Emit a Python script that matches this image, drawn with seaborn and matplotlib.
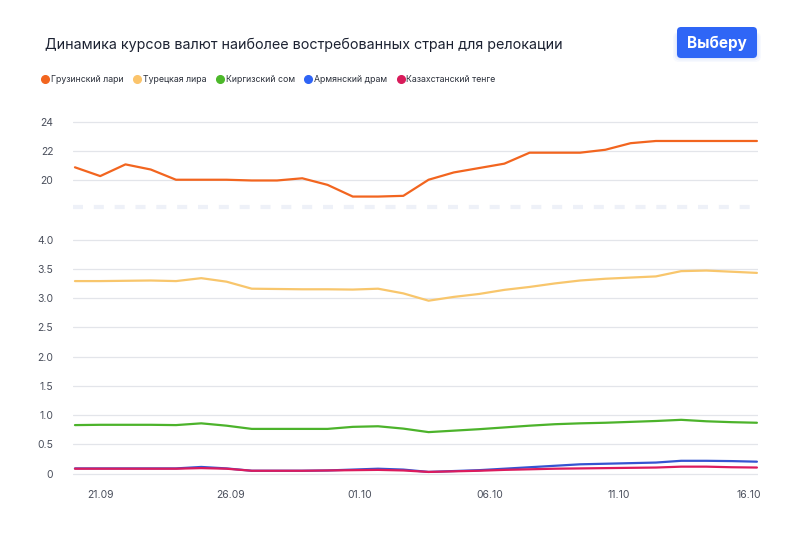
import matplotlib
matplotlib.use("Agg")
import matplotlib.pyplot as plt
import matplotlib.dates as mdates
from matplotlib.patches import FancyBboxPatch
from matplotlib.lines import Line2D
from matplotlib.transforms import IdentityTransform
import numpy as np
import pandas as pd
import seaborn as sns

## data
dates = pd.date_range("2022-09-20", "2022-10-16 08:00", periods=28)
lari = [20.9, 20.3, 21.1, 20.75, 20.05, 20.05, 20.05, 20.0, 20.0, 20.15, 19.7, 18.9, 18.9, 18.95,
        20.05, 20.55, 20.85, 21.15, 21.9, 21.9, 21.9, 22.1, 22.55, 22.7, 22.7, 22.7, 22.7, 22.7]
lira = [3.29, 3.29, 3.295, 3.30, 3.29, 3.34, 3.28, 3.16, 3.155, 3.15, 3.15, 3.145, 3.16, 3.08,
        2.955, 3.02, 3.07, 3.14, 3.19, 3.25, 3.30, 3.33, 3.35, 3.37, 3.46, 3.47, 3.45, 3.43]
som = [0.83, 0.835, 0.835, 0.835, 0.83, 0.86, 0.82, 0.765, 0.765, 0.765, 0.765, 0.80, 0.81, 0.77,
       0.71, 0.735, 0.76, 0.79, 0.82, 0.845, 0.86, 0.87, 0.885, 0.90, 0.92, 0.895, 0.88, 0.87]
dram = [0.09, 0.09, 0.09, 0.09, 0.09, 0.115, 0.09, 0.05, 0.05, 0.05, 0.055, 0.07, 0.085, 0.07,
        0.03, 0.045, 0.06, 0.085, 0.11, 0.135, 0.16, 0.17, 0.18, 0.19, 0.22, 0.22, 0.215, 0.205]
tenge = [0.085, 0.085, 0.085, 0.085, 0.085, 0.095, 0.085, 0.05, 0.05, 0.05, 0.055, 0.06, 0.065, 0.055,
         0.03, 0.04, 0.05, 0.065, 0.075, 0.085, 0.09, 0.095, 0.10, 0.105, 0.12, 0.12, 0.11, 0.105]

names = ["Грузинский лари", "Турецкая лира", "Киргизский сом", "Армянский драм", "Казахстанский тенге"]
colors = ["#f2651f", "#f8c66c", "#4cb32b", "#3554d1", "#dc1b5d"]
legend_colors = ["#f2651f", "#fbc46b", "#4cb82a", "#2f64f5", "#d81b5a"]
x_ticks = ["2022-09-21", "2022-09-26", "2022-10-01", "2022-10-06", "2022-10-11", "2022-10-16"]
top_ticks = [20, 22, 24]
bot_ticks = [0, 0.5, 1.0, 1.5, 2.0, 2.5, 3.0, 3.5, 4.0]
bot_labels = ["0", "0.5", "1.0", "1.5", "2.0", "2.5", "3.0", "3.5", "4.0"]

title = "Динамика курсов валют наиболее востребованных стран для релокации"
button = "Выберу"

df = pd.DataFrame({
    "date": np.tile(dates, len(names)),
    "rate": np.concatenate([lari, lira, som, dram, tenge]),
    "currency": np.repeat(names, len(dates)),
})
palette = dict(zip(names, colors))

## global settings
sns.set_theme(style="white")
plt.rcParams["font.family"] = ["Inter", "DejaVu Sans"]

fig = plt.figure(figsize=(8, 5.33), dpi=100)
ax_top = fig.add_axes([0.091, 0.612, 0.8565, 0.1619])
ax_bot = fig.add_axes([0.091, 0.1058, 0.8565, 0.4503])

sns.lineplot(data=df[df.currency == names[0]], x="date", y="rate", hue="currency",
             palette=palette, linewidth=1.6, legend=False, ax=ax_top)
sns.lineplot(data=df[df.currency != names[0]], x="date", y="rate", hue="currency",
             hue_order=names[1:], palette=palette, linewidth=1.6, legend=False, ax=ax_bot)

xmin = dates[0] - pd.Timedelta(hours=2)
xmax = dates[-1] + pd.Timedelta(hours=1)
tick_col = "#4a4f5c"
for ax in (ax_top, ax_bot):
    ax.set_xlim(xmin, xmax)
    ax.set_xlabel("")
    ax.set_ylabel("")
    for s in ax.spines.values():
        s.set_visible(False)
    ax.grid(axis="y", color="#e3e5ea", linewidth=0.9)
    ax.grid(axis="x", visible=False)
    ax.set_axisbelow(True)
    ax.tick_params(length=0, labelsize=7.5, labelcolor=tick_col)
    ax.tick_params(axis="y", pad=14)

ax_top.set_ylim(18.2, 24.1)
ax_top.set_yticks(top_ticks)
ax_top.set_yticklabels([str(t) for t in top_ticks])
ax_top.set_xticks(pd.to_datetime(x_ticks))
ax_top.tick_params(axis="x", labelbottom=False)
## dashed break line
ax_top.axhline(18.2, color="#eef1f8", linewidth=3.0, linestyle=(0, (2.4, 2.6)), clip_on=False, zorder=0)

ax_bot.set_ylim(-0.05, 4.05)
ax_bot.set_yticks(bot_ticks)
ax_bot.set_yticklabels(bot_labels)
ax_bot.set_xticks(pd.to_datetime(x_ticks))
ax_bot.xaxis.set_major_formatter(mdates.DateFormatter("%d.%m"))
ax_bot.tick_params(axis="x", pad=10)

## title
fig.text(45 / 800, 1 - 45 / 533, title, fontsize=10.3, color="#1c2232", va="center", ha="left")

## legend
handles = [Line2D([0], [0], marker="o", linestyle="", markersize=5.5, color=c) for c in legend_colors]
fig.legend(handles, names, loc="center left", bbox_to_anchor=(33 / 800, 1 - 80 / 533), ncol=5,
           frameon=False, fontsize=6.3, handletextpad=0.15, columnspacing=1.05, handlelength=1.0,
           labelcolor="#2a2f3a")

## button with soft shadow
H = 533
for i, a in enumerate([0.04, 0.05, 0.06]):
    sh = FancyBboxPatch((677 - 4 + i * 1.5, H - 62 + i * 1.5), 80 + 8 - i * 3, 30 - i * 1.5,
                        boxstyle="round,pad=0,rounding_size=6", transform=IdentityTransform(),
                        facecolor="#3b6cf6", edgecolor="none", alpha=a)
    fig.add_artist(sh)
btn = FancyBboxPatch((677, H - 58), 80, 31, boxstyle="round,pad=0,rounding_size=4",
                     transform=IdentityTransform(), facecolor="#2f66f6", edgecolor="none")
fig.add_artist(btn)
fig.text(717 / 800, 1 - 43 / 533, button, color="white", fontsize=11, fontweight="bold",
         ha="center", va="center")

fig.savefig("out.png", dpi=100)
